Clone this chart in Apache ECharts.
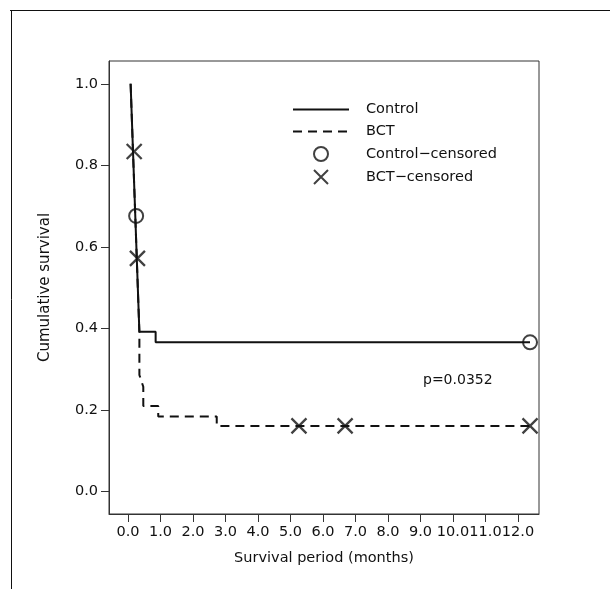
<!DOCTYPE html>
<html>
<head>
<meta charset="utf-8">
<script src="https://cdn.jsdelivr.net/npm/echarts@6/dist/echarts.min.js"></script>
<style>
html,body{margin:0;padding:0;background:#fff;}
#chart{width:610px;height:589px;}
</style>
</head>
<body>
<div id="chart"></div>
<script>
// ---- data ----
const xTicks = [0,1,2,3,4,5,6,7,8,9,10,11,12];
const yTicks = [0.0,0.2,0.4,0.6,0.8,1.0];

const controlTimes = [0.08, 0.35, 0.85, 0.85, 12.37];
const controlSurv  = [1.0, 0.392, 0.392, 0.366, 0.366];

const bctTimes = [0.08, 0.35, 0.35, 0.47, 0.47, 0.93, 0.93, 2.73, 2.73, 12.37];
const bctSurv  = [1.0, 0.39, 0.286, 0.257, 0.21, 0.21, 0.184, 0.184, 0.161, 0.161];

const controlCensTimes = [0.25, 12.37];
const controlCensSurv  = [0.676, 0.366];

const bctCensTimes = [0.19, 0.29, 5.26, 6.68, 12.37];
const bctCensSurv  = [0.834, 0.572, 0.161, 0.161, 0.161];

const pText = 'p=0.0352';
// --------------------------------------

const zip = (a, b) => a.map((v, i) => [v, b[i]]);
const FONT = 'DejaVu Sans';
const INK = '#111';
const XPATH = 'path://M0,0L10,10M10,0L0,10';
const noSym = {color: 'rgba(0,0,0,0)', borderWidth: 0, opacity: 0};

const chart = echarts.init(document.getElementById('chart'), null, {renderer: 'canvas'});
chart.setOption({
  animation: false,
  backgroundColor: '#fff',
  textStyle: {fontFamily: FONT, color: INK},
  grid: {left: 109, right: 71, top: 61, bottom: 75, show: true, borderColor: '#333', borderWidth: 1, backgroundColor: 'transparent'},
  xAxis: {
    type: 'value', min: -0.585, max: 12.646,
    name: 'Survival period (months)', nameLocation: 'middle', nameGap: 37,
    nameTextStyle: {fontSize: 14.5, color: INK, fontFamily: FONT},
    axisLine: {show: true, onZero: false, lineStyle: {color: '#333', width: 1}},
    axisTick: {show: true, inside: false, length: 8, customValues: xTicks, lineStyle: {color: '#333', width: 1}},
    axisLabel: {show: true, customValues: xTicks, margin: 11, fontSize: 14.5, color: INK, fontFamily: FONT,
      formatter: v => Number(v).toFixed(1)},
    splitLine: {show: false}
  },
  yAxis: {
    type: 'value', min: -0.055, max: 1.056,
    name: 'Cumulative survival', nameLocation: 'middle', nameGap: 56, nameRotate: 90,
    nameTextStyle: {fontSize: 15, color: INK, fontFamily: FONT},
    axisLine: {show: true, onZero: false, lineStyle: {color: '#333', width: 1}},
    axisTick: {show: true, inside: false, length: 8, customValues: yTicks, lineStyle: {color: '#333', width: 1}},
    axisLabel: {show: true, customValues: yTicks, margin: 11, fontSize: 14.5, color: INK, fontFamily: FONT,
      formatter: v => Number(v).toFixed(1)},
    splitLine: {show: false}
  },
  legend: {
    orient: 'vertical', left: 292, top: 102, itemWidth: 56, itemHeight: 14, itemGap: 7,
    selectedMode: false, padding: 0,
    textStyle: {fontSize: 14.5, color: INK, fontFamily: FONT, padding: [0, 0, 0, 12]},
    data: [
      {name: 'Control', itemStyle: noSym},
      {name: 'BCT', itemStyle: noSym},
      {name: 'Control\u2212censored'},
      {name: 'BCT\u2212censored'}
    ]
  },
  series: [
    {
      name: 'BCT', type: 'line', data: zip(bctTimes, bctSurv), showSymbol: false, symbol: 'none',
      lineStyle: {color: INK, width: 2, type: [9, 6]}, itemStyle: {color: INK}, z: 2
    },
    {
      name: 'Control', type: 'line', data: zip(controlTimes, controlSurv), showSymbol: false, symbol: 'none',
      lineStyle: {color: INK, width: 2, type: 'solid'}, itemStyle: {color: INK}, z: 3
    },
    {
      name: 'Control\u2212censored', type: 'scatter', data: zip(controlCensTimes, controlCensSurv),
      symbol: 'circle', symbolSize: 14,
      itemStyle: {color: 'rgba(0,0,0,0)', borderColor: INK, borderWidth: 2}, z: 4
    },
    {
      name: 'BCT\u2212censored', type: 'scatter', data: zip(bctCensTimes, bctCensSurv),
      symbol: XPATH, symbolSize: 15,
      itemStyle: {color: 'rgba(0,0,0,0)', borderColor: INK, borderWidth: 2.3}, z: 4
    }
  ],
  graphic: [
    {type: 'line', shape: {x1: 10, y1: 10.5, x2: 610, y2: 10.5}, style: {stroke: INK, lineWidth: 1}, silent: true},
    {type: 'line', shape: {x1: 11.5, y1: 10, x2: 11.5, y2: 589}, style: {stroke: INK, lineWidth: 1}, silent: true},
    {type: 'text', left: 423, top: 373, style: {text: pText, fontSize: 14, fill: INK, fontFamily: FONT}, silent: true}
  ]
});
</script>
</body>
</html>
